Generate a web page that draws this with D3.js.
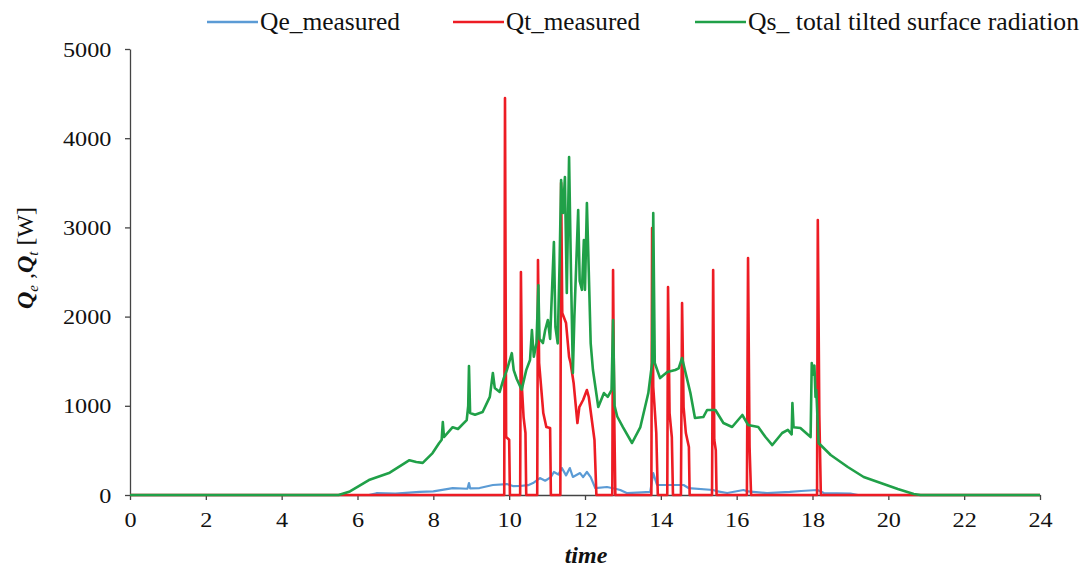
<!doctype html>
<html>
  <head>
    <meta charset="utf-8">
    <script src="https://d3js.org/d3.v7.min.js"></script>
  </head>
  <body style="margin:0">
    <script>
      // tick labels
      const xTicks = [0, 2, 4, 6, 8, 10, 12, 14, 16, 18, 20, 22, 24];
      const yTicks = [0, 1000, 2000, 3000, 4000, 5000];

      // Qe_measured (blue)
      const qeTime = [0, 6.3, 6.5, 7.0, 7.64, 8.0, 8.51, 8.9, 8.94, 8.97, 9.22, 9.57, 9.94, 10.1, 10.28, 10.5, 10.63,
        10.81, 10.95, 11.1, 11.18, 11.3, 11.39, 11.5, 11.6, 11.68, 11.87, 11.95, 12.05, 12.15, 12.27, 12.58, 12.8,
        12.93, 13.1, 13.5, 13.72, 13.8, 13.9, 14.6, 14.73, 15.38, 15.5, 15.75, 16.18, 16.3, 16.8, 17.4, 17.7, 18.13,
        18.3, 19.0, 19.2, 24];
      const qeVal = [0, 0, 20, 15, 34, 40, 78, 70, 134, 75, 78, 112, 123, 100, 101, 110, 134,
        190, 160, 200, 258, 230, 302, 220, 302, 202, 246, 200, 258, 200, 78, 90, 70,
        56, 22, 30, 34, 246, 112, 112, 78, 56, 40, 22, 56, 40, 22, 34, 45, 56,
        22, 15, 0, 0];

      // Qt_measured (red)
      const qtTime = [0, 9.87, 9.89, 9.92, 10.0, 10.02, 10.29, 10.31, 10.34, 10.38, 10.43, 10.45,
        10.74, 10.76, 10.79, 10.9, 10.98, 11.08, 11.1, 11.35, 11.37, 11.4, 11.5, 11.58, 11.62, 11.7, 11.8, 11.85,
        11.95, 12.05, 12.1, 12.25, 12.3, 12.72, 12.74, 12.77, 12.8, 13.75, 13.77, 13.8, 13.88, 13.92,
        14.17, 14.19, 14.23, 14.29, 14.32, 14.53, 14.56, 14.6, 14.66, 14.74, 14.76, 15.35, 15.38, 15.41, 15.45, 15.47,
        16.27, 16.3, 16.34, 16.38, 18.12, 18.14, 18.18, 18.22, 24];
      const qtVal = [0, 0, 4450, 650, 620, 0, 0, 2500, 1177, 874, 695, 0,
        0, 2634, 1480, 919, 762, 751, 0, 0, 3500, 2040, 1928, 1547, 1480, 1256, 807, 986,
        1065, 1177, 1099, 617, 0, 0, 2522, 919, 0, 0, 2993, 1211, 695, 0,
        0, 2332, 919, 650, 0, 0, 2152, 986, 695, 538, 0, 0, 2522, 617, 500, 0,
        0, 2657, 540, 0, 0, 3083, 900, 0, 0];

      // Qs_ total tilted surface radiation (green)
      const qsTime = [0, 5.5, 5.8, 6.3, 6.85, 7.37, 7.55, 7.72, 7.98, 8.15, 8.22, 8.25, 8.28, 8.51, 8.65, 8.88, 8.92,
        8.94, 8.97, 9.1, 9.3, 9.49, 9.57, 9.62, 9.75, 9.85, 9.94, 10.07, 10.12, 10.2, 10.33, 10.45, 10.55, 10.6,
        10.65, 10.72, 10.77, 10.8, 10.89, 10.95, 11.02, 11.08, 11.18, 11.22, 11.28, 11.33, 11.37, 11.42, 11.47,
        11.52, 11.58, 11.63, 11.68, 11.72, 11.82, 11.86, 11.92, 11.97, 12.0, 12.05, 12.1, 12.15, 12.21, 12.35,
        12.5, 12.6, 12.7, 12.74, 12.78, 12.85, 13.0, 13.24, 13.46, 13.67, 13.77, 13.8, 13.84, 13.98, 14.17, 14.38,
        14.47, 14.56, 14.78, 14.9, 15.12, 15.22, 15.44, 15.65, 15.88, 16.15, 16.3, 16.57, 16.76, 16.94, 17.2,
        17.35, 17.45, 17.47, 17.5, 17.68, 17.95, 17.98, 18.02, 18.05, 18.08, 18.1, 18.16, 18.48, 18.93, 19.35,
        19.8, 20.25, 20.67, 20.85, 24];
      const qsVal = [0, 0, 40, 168, 250, 390, 370, 360, 470, 580, 620, 818, 650, 760, 740, 840, 1000,
        1446, 920, 900, 930, 1100, 1368, 1200, 1155, 1300, 1400, 1590, 1400, 1300, 1180, 1400, 1513, 1850,
        1550, 1700, 2350, 1750, 1704, 1850, 1962, 1750, 2836, 1883, 1700, 2600, 3531, 3161, 3565,
        2264, 3789, 2500, 1368, 2000, 3195, 2400, 2300, 2858, 2300, 3273, 2500, 1700, 1401, 986,
        1143, 1100, 1177, 1962, 1000, 880, 762, 583, 762, 1143, 1480, 3161, 1480, 1311, 1379, 1401,
        1420, 1536, 1143, 863, 874, 953, 953, 807, 762, 897, 785, 762, 650, 560, 695,
        730, 680, 1031, 760, 751, 650, 1480, 1350, 1450, 1100, 1177, 583, 448, 314, 202,
        134, 67, 11, 0, 0];

      const W = 1086, H = 574;
      const margin = {top: 49, right: 46, bottom: 79, left: 130},
          width = W - margin.left - margin.right,
          height = H - margin.top - margin.bottom;

      const root = d3.select("body")
        .append("svg")
          .attr("width", W)
          .attr("height", H);
      const svg = root.append("g")
          .attr("transform", `translate(${margin.left},${margin.top})`);

      const x = d3.scaleLinear().domain([0, 24]).range([0, width]);
      const y = d3.scaleLinear().domain([0, 5000]).range([height, 0]);

      // axes
      const xAxis = svg.append("g")
        .attr("transform", `translate(0, ${height})`)
        .call(d3.axisBottom(x).tickValues(xTicks).tickFormat(d3.format("d"))
          .tickSize(5).tickSizeOuter(0).tickPadding(11));
      const yAxis = svg.append("g")
        .call(d3.axisLeft(y).tickValues(yTicks).tickFormat(d3.format("d"))
          .tickSize(5).tickSizeOuter(0).tickPadding(12));
      [xAxis, yAxis].forEach(a => {
        a.attr("font-family", "Times New Roman");
        a.select(".domain").attr("stroke", "#444").attr("stroke-width", 1.3);
        a.selectAll(".tick line").attr("stroke", "#444").attr("stroke-width", 1.3);
        a.selectAll(".tick text")
          .attr("font-size", 22)
          .attr("fill", "#111")
          .attr("transform", "scale(1.1,1)");
      });

      // lines
      const series = [
        {t: qeTime, v: qeVal, color: "#5b9bd5", w: 2.2},
        {t: qtTime, v: qtVal, color: "#ed1c24", w: 2.6},
        {t: qsTime, v: qsVal, color: "#20a048", w: 2.6}
      ];
      const line = d3.line().x(d => x(d[0])).y(d => y(d[1]));
      series.forEach(s => {
        svg.append("path")
          .datum(d3.zip(s.t, s.v))
          .attr("fill", "none")
          .attr("stroke", s.color)
          .attr("stroke-width", s.w)
          .attr("stroke-linejoin", "round")
          .attr("d", line);
      });

      // legend
      const legend = [
        {label: "Qe_measured", color: "#5b9bd5", x: 207, len: 140},
        {label: "Qt_measured", color: "#ed1c24", x: 453, len: 134},
        {label: "Qs_ total tilted surface radiation", color: "#20a048", x: 695, len: 331}
      ];
      legend.forEach(l => {
        root.append("line")
          .attr("x1", l.x).attr("x2", l.x + 51)
          .attr("y1", 22).attr("y2", 22)
          .attr("stroke", l.color).attr("stroke-width", 2.6);
        root.append("text")
          .attr("x", l.x + 53).attr("y", 30)
          .attr("font-family", "Times New Roman")
          .attr("font-size", 25)
          .attr("fill", "#111")
          .attr("textLength", l.len)
          .attr("lengthAdjust", "spacingAndGlyphs")
          .text(l.label);
      });

      // axis titles
      root.append("text")
        .attr("x", margin.left + width / 2 + 1)
        .attr("y", 563)
        .attr("text-anchor", "middle")
        .attr("font-family", "Times New Roman")
        .attr("font-size", 24)
        .attr("font-weight", "bold")
        .attr("font-style", "italic")
        .attr("fill", "#111")
        .text("time");

      const yt = root.append("text")
        .attr("transform", "translate(33,258) rotate(-90)")
        .attr("text-anchor", "middle")
        .attr("font-family", "Times New Roman")
        .attr("fill", "#111")
        .attr("font-size", 24);
      yt.append("tspan").attr("font-style", "italic").attr("font-weight", "bold").text("Q");
      yt.append("tspan").attr("font-size", 15).attr("font-style", "italic").attr("dy", 5).text("e");
      yt.append("tspan").attr("dy", -5).text(" ,");
      yt.append("tspan").attr("font-style", "italic").attr("font-weight", "bold").text("Q");
      yt.append("tspan").attr("font-size", 15).attr("font-style", "italic").attr("dy", 5).text("t");
      yt.append("tspan").attr("dy", -5).text(" [W]");
    </script>
  </body>
</html>
